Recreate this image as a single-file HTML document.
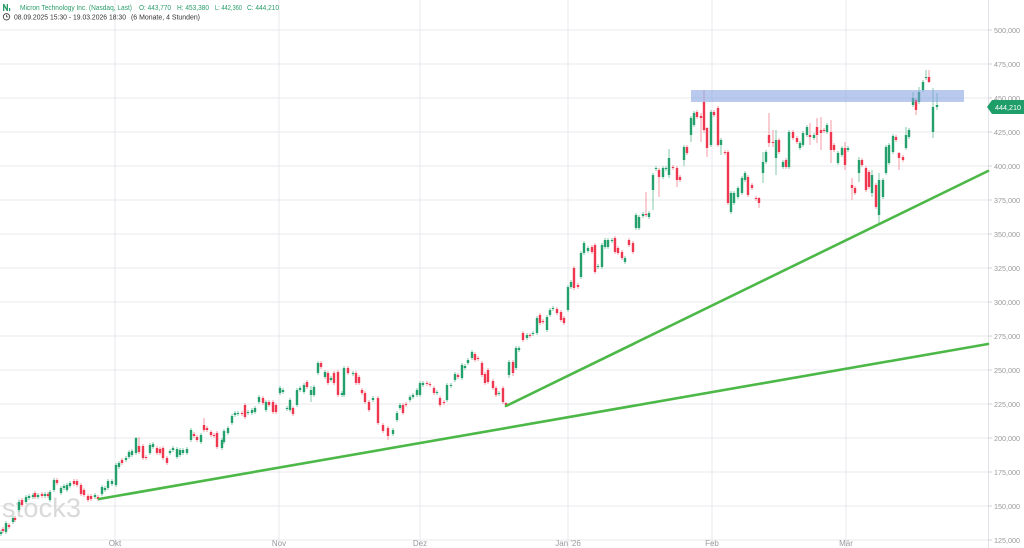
<!DOCTYPE html>
<html><head><meta charset="utf-8"><style>
html,body{margin:0;padding:0;background:#fff;}
svg{display:block;font-family:"Liberation Sans",sans-serif;}
</style></head><body>
<svg width="1024" height="548" viewBox="0 0 1024 548" xmlns="http://www.w3.org/2000/svg">
<rect width="1024" height="548" fill="#fff"/>
<!-- grid -->
<g stroke="#e8e8ee" stroke-width="1">
<path d="M0 30H988M0 64H988M0 98H988M0 132H988M0 166H988M0 200H988M0 234H988M0 268H988M0 302H988M0 336H988M0 370H988M0 404H988M0 438H988M0 472H988M0 506H988M0 540H988"/>
<path d="M115 0V548M279 0V548M420 0V548M568 0V548M712 0V548M846 0V548"/>
</g>
<path d="M988.5 0V548" stroke="#e2e2e8" stroke-width="1"/>
<g stroke="#d0d0d6" stroke-width="1"><path d="M988 30H992M988 64H992M988 98H992M988 132H992M988 166H992M988 200H992M988 234H992M988 268H992M988 302H992M988 336H992M988 370H992M988 404H992M988 438H992M988 472H992M988 506H992M988 540H992"/></g>
<!-- watermark -->
<text x="2" y="517" font-size="27" fill="#d2d2d2" fill-opacity="0.85" textLength="79">stock3</text>
<!-- wicks -->
<path fill="none" stroke="#84c9a9" stroke-width="1" d="M1 530V536M6 521V534M13 516V524M19 500V512M26 495V504M29 494V500M33 493V499M38 493V499M45 492V498M50 490V502M54 478V492M61 486V495M64 484V490M67 483V492M70 481V488M95 493V499M102 485V496M105 486V492M108 479V490M112 479V486M116 463V487M119 461V469M126 456V462M129 450V459M132 449V457M136 437V455M150 443V455M153 442V449M170 449V455M173 446V452M177 447V459M180 448V457M183 448V455M187 447V455M191 428V442M201 433V444M222 438V450M224 429V444M228 426V435M232 414V425M235 411V417M238 411V416M248 410V415M252 408V415M255 406V414M259 395V404M266 400V412M280 386V395M283 388V394M287 406V411M290 398V412M297 388V407M300 386V392M304 383V394M311 386V402M314 385V397M318 361V375M325 370V379M331 376V382M342 391V397M344 366V397M353 371V376M373 396V402M393 428V436M397 411V422M400 403V410M410 395V402M413 393V399M417 388V397M420 381V397M423 381V387M437 390V395M447 383V402M451 383V388M455 372V382M462 363V380M465 364V370M468 358V365M472 350V360M499 391V396M509 360V378M516 346V370M519 346V352M527 333V340M533 331V336M537 316V335M547 315V332M550 308V317M553 306V311M568 285V312M571 280V289M581 251V279M584 241V255M588 246V253M598 264V269M602 243V269M605 238V249M608 238V249M612 238V243M625 256V264M636 213V230M639 215V230M643 212V218M649 211V219M653 173V210M656 166V171M663 166V179M666 166V171M669 149V178M684 145V166M691 116V142M694 111V127M711 110V147M721 138V155M731 191V214M734 191V205M738 186V199M742 176V195M745 171V182M763 152V183M766 150V164M776 130V175M783 160V169M789 130V169M800 141V150M803 131V147M807 125V137M814 133V140M827 123V134M838 151V165M842 146V157M848 146V152M859 157V182M872 170V197M879 173V223M883 178V199M886 145V175M889 143V165M893 134V154M906 127V150M909 128V139M913 92V107M919 87V104M923 80V92M926 70V80M933 88V138M937 93V110"/>
<path fill="none" stroke="#f49ba7" stroke-width="1" d="M3 527V533M9 523V529M15 516V522M22 498V507M35 491V499M42 492V498M48 492V498M57 478V485M74 479V486M77 479V487M81 483V496M84 488V497M88 494V502M91 494V501M98 495V501M122 458V465M139 437V454M143 444V460M146 455V460M157 446V455M160 447V455M163 446V460M167 456V465M194 432V438M197 435V442M204 418V432M207 426V432M211 430V437M214 433V438M217 431V449M242 411V416M245 403V419M263 396V405M269 400V407M273 400V414M276 403V414M293 406V416M307 380V389M321 361V369M328 371V385M334 371V385M338 370V397M348 366V375M356 371V385M359 375V385M362 388V395M365 391V404M369 400V412M378 396V425M383 423V433M388 426V440M403 403V415M406 402V407M427 381V386M430 382V387M434 386V395M440 396V407M444 400V405M458 373V379M475 352V362M478 356V361M482 361V377M485 372V385M488 368V384M493 379V390M496 386V397M503 386V404M506 402V407M513 360V376M523 331V342M530 333V338M540 313V325M543 319V324M557 307V315M561 310V322M564 316V325M574 266V290M578 283V289M592 245V254M595 243V274M615 236V254M618 246V255M622 250V260M629 238V247M633 241V254M646 192V217M659 168V197M673 165V170M677 166V187M680 175V182M687 145V155M697 110V119M701 113V142M704 90V133M707 127V157M714 110V117M718 106V147M725 150V155M728 150V205M748 175V197M752 183V190M756 196V201M759 197V208M769 113V147M773 130V147M779 138V154M786 158V169M793 130V140M797 136V144M810 123V145M817 118V143M821 117V150M824 128V133M831 120V163M834 143V152M845 142V170M852 178V200M855 186V195M862 158V167M866 166V192M869 170V189M876 183V209M896 135V142M899 152V170M903 155V162M916 98V115M929 70V83"/>
<!-- bodies -->
<path fill="none" stroke="#23a06b" stroke-width="2.4" d="M1 532V534M6 523V532M13 518V522M19 502V510M26 497V502M29 496V498M33 495V497M38 495V497M45 494V496M50 492V500M54 480V490M61 488V493M64 486V488M67 485V490M70 483V486M95 495V497M102 487V494M105 488V490M108 481V488M112 481V484M116 465V485M119 463V467M126 458V460M129 452V457M132 451V455M136 438V453M150 445V453M153 444V447M170 451V453M173 448V450M177 449V457M180 450V455M183 450V453M187 449V453M191 430V440M201 435V442M222 440V448M224 431V442M228 428V433M232 416V423M235 413V415M238 413V414M248 412V413M252 410V413M255 408V412M259 397V402M266 402V410M280 388V393M283 390V392M287 408V409M290 400V410M297 390V405M300 388V390M304 385V392M311 390V395M314 387V395M318 363V373M325 372V377M331 378V380M342 393V395M344 368V395M353 373V374M373 398V400M393 430V434M397 413V420M400 405V408M410 397V400M413 395V397M417 390V395M420 383V395M423 383V385M437 392V393M447 385V400M451 385V386M455 374V380M462 365V378M465 366V368M468 360V363M472 352V358M499 393V394M509 362V375M516 348V368M519 348V350M527 335V338M533 333V334M537 318V333M547 317V330M550 310V315M553 308V309M568 287V310M571 282V287M581 253V277M584 243V253M588 248V251M598 266V267M602 245V267M605 240V247M608 240V247M612 240V241M625 258V262M636 215V228M639 217V228M643 214V216M649 213V217M653 175V190M656 168V169M663 168V177M666 168V169M669 158V175M684 147V160M691 118V135M694 113V125M711 112V145M721 140V145M731 193V212M734 193V203M738 188V197M742 178V193M745 173V180M763 162V173M766 152V162M776 140V158M783 162V167M789 132V167M800 143V148M803 133V145M807 127V135M814 135V138M827 125V132M838 153V163M842 148V155M848 148V150M859 160V173M872 175V193M879 180V215M883 180V197M886 147V173M889 145V163M893 136V152M906 135V148M909 130V137M913 98V105M919 92V102M923 82V90M926 77V78M933 107V132M937 105V107"/>
<path fill="none" stroke="#ef3850" stroke-width="2.4" d="M3 529V531M9 525V527M15 518V520M22 500V505M35 493V497M42 494V496M48 494V496M57 480V483M74 481V484M77 481V485M81 485V494M84 490V495M88 496V500M91 496V499M98 497V499M122 460V463M139 446V452M143 446V458M146 457V458M157 448V453M160 449V453M163 448V458M167 458V463M194 434V436M197 437V440M204 425V430M207 428V430M211 432V435M214 435V436M217 433V447M242 413V414M245 405V417M263 398V403M269 402V405M273 402V412M276 405V412M293 408V414M307 382V387M321 363V367M328 373V383M334 373V383M338 372V395M348 368V373M356 373V383M359 377V383M362 390V393M365 393V402M369 402V410M378 398V423M383 425V431M388 428V436M403 405V413M406 404V405M427 383V384M430 384V385M434 388V393M440 398V405M444 402V403M458 375V377M475 354V360M478 358V359M482 363V375M485 374V383M488 370V382M493 381V388M496 388V395M503 388V402M506 403V405M513 362V373M523 333V340M530 335V336M540 315V323M543 321V322M557 309V313M561 312V320M564 318V323M574 268V288M578 285V287M592 247V252M595 245V272M615 238V252M618 248V253M622 252V258M629 240V245M633 243V252M646 214V215M659 170V177M673 167V168M677 168V180M680 177V180M687 147V153M697 112V117M701 116V118M704 102V130M707 128V148M714 112V115M718 108V145M725 152V153M728 152V203M748 177V195M752 185V188M756 198V199M759 198V203M769 135V143M773 142V143M779 140V152M786 160V167M793 132V138M797 138V142M810 135V137M817 127V135M821 130V133M824 130V131M831 132V150M834 145V150M845 148V165M852 185V188M855 188V193M862 160V165M866 168V190M869 172V187M876 185V207M896 137V140M899 153V158M903 157V160M916 100V110M929 77V82"/>
<!-- resistance band -->
<rect x="691" y="90" width="273" height="12" fill="#7f9fe0" fill-opacity="0.55"/>
<!-- trend lines -->
<g stroke="#4cb847" stroke-width="2.6" stroke-linecap="round" fill="none">
<path d="M99 499L988 344"/>
<path d="M506 406L988 171"/>
</g>
<!-- y labels -->
<g font-size="7.4" fill="#9a9a9a">
<text x="994" y="33" textLength="26" lengthAdjust="spacingAndGlyphs">500,000</text>
<text x="994" y="67" textLength="26" lengthAdjust="spacingAndGlyphs">475,000</text>
<text x="994" y="101" textLength="26" lengthAdjust="spacingAndGlyphs">450,000</text>
<text x="994" y="135" textLength="26" lengthAdjust="spacingAndGlyphs">425,000</text>
<text x="994" y="169" textLength="26" lengthAdjust="spacingAndGlyphs">400,000</text>
<text x="994" y="203" textLength="26" lengthAdjust="spacingAndGlyphs">375,000</text>
<text x="994" y="237" textLength="26" lengthAdjust="spacingAndGlyphs">350,000</text>
<text x="994" y="271" textLength="26" lengthAdjust="spacingAndGlyphs">325,000</text>
<text x="994" y="305" textLength="26" lengthAdjust="spacingAndGlyphs">300,000</text>
<text x="994" y="339" textLength="26" lengthAdjust="spacingAndGlyphs">275,000</text>
<text x="994" y="373" textLength="26" lengthAdjust="spacingAndGlyphs">250,000</text>
<text x="994" y="407" textLength="26" lengthAdjust="spacingAndGlyphs">225,000</text>
<text x="994" y="441" textLength="26" lengthAdjust="spacingAndGlyphs">200,000</text>
<text x="994" y="475" textLength="26" lengthAdjust="spacingAndGlyphs">175,000</text>
<text x="994" y="509" textLength="26" lengthAdjust="spacingAndGlyphs">150,000</text>
<text x="994" y="543" textLength="26" lengthAdjust="spacingAndGlyphs">125,000</text>
</g>
<!-- price label -->
<polygon points="987,107 992,100 1024,100 1024,114 992,114" fill="#1f9e6a"/>
<text x="995" y="110" font-size="7.6" fill="#fff" textLength="26" lengthAdjust="spacingAndGlyphs">444,210</text>
<!-- x labels -->
<g font-size="8" fill="#9a9a9a" text-anchor="middle">
<text x="115" y="546">Okt</text>
<text x="279" y="546">Nov</text>
<text x="420" y="546">Dez</text>
<text x="568" y="546">Jan '26</text>
<text x="712" y="546">Feb</text>
<text x="846" y="546">Mär</text>
</g>
<!-- header -->
<g fill="#2a9d6a">
<path d="M3 11V4h1.3l2.4 4.2V4H8v7H6.7L4.3 6.8V11z"/>
<rect x="9" y="8" width="1.2" height="3"/>
</g>
<g font-size="7.6" fill="#2a9d6a">
<text x="20" y="10" textLength="112" lengthAdjust="spacingAndGlyphs">Micron Technology Inc. (Nasdaq, Last)</text>
<text x="139" y="10" textLength="32" lengthAdjust="spacingAndGlyphs">O: 443,770</text>
<text x="177" y="10" textLength="32" lengthAdjust="spacingAndGlyphs">H: 453,380</text>
<text x="215" y="10" textLength="27" lengthAdjust="spacingAndGlyphs">L: 442,360</text>
<text x="247" y="10" textLength="32" lengthAdjust="spacingAndGlyphs">C: 444,210</text>
</g>
<circle cx="6.5" cy="16.8" r="3.2" fill="none" stroke="#444" stroke-width="0.9"/>
<path d="M6.5 14.8V16.9H8.2" fill="none" stroke="#444" stroke-width="0.8"/>
<g font-size="7.6" fill="#333">
<text x="14" y="19.5" textLength="112" lengthAdjust="spacingAndGlyphs">08.09.2025 15:30 - 19.03.2026 18:30</text>
<text x="131" y="19.5" textLength="69" lengthAdjust="spacingAndGlyphs">(6 Monate, 4 Stunden)</text>
</g>
</svg>
</body></html>
